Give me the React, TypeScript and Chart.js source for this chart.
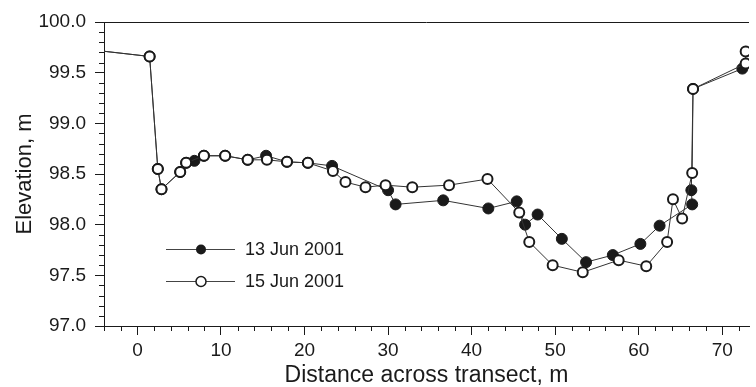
import React, { useEffect, useRef } from "react";
import { Chart, registerables } from "chart.js";

Chart.register(...registerables);

// 13 Jun 2001 (filled markers)
const juneThirteenX = [-6, 1.46, 2.44, 2.88, 5.12, 5.83, 6.82, 7.96, 10.5, 13.2, 15.4, 17.9, 20.4, 23.3, 30.0, 30.9, 36.6, 42.0, 45.4, 46.4, 47.9, 50.8, 53.7, 56.9, 60.2, 62.5, 66.4, 66.3, 66.5, 72.4];
const juneThirteenY = [99.73, 99.66, 98.55, 98.35, 98.52, 98.61, 98.63, 98.68, 98.68, 98.64, 98.68, 98.62, 98.61, 98.58, 98.34, 98.20, 98.24, 98.16, 98.23, 98.00, 98.10, 97.86, 97.63, 97.70, 97.81, 97.99, 98.20, 98.34, 99.34, 99.54];

// 15 Jun 2001 (open markers)
const juneFifteenX = [-6, 1.46, 2.44, 2.88, 5.12, 5.83, 7.96, 10.5, 13.2, 15.5, 17.9, 20.4, 23.4, 24.9, 27.3, 29.7, 32.9, 37.3, 41.9, 45.7, 46.9, 49.7, 53.3, 57.6, 60.9, 63.4, 64.1, 65.2, 66.4, 66.5, 72.8, 72.8];
const juneFifteenY = [99.73, 99.66, 98.55, 98.35, 98.52, 98.61, 98.68, 98.68, 98.64, 98.64, 98.62, 98.61, 98.53, 98.42, 98.37, 98.39, 98.37, 98.39, 98.45, 98.12, 97.83, 97.60, 97.53, 97.65, 97.59, 97.83, 98.25, 98.06, 98.51, 99.34, 99.59, 99.71];

const seriesLabels = ["13 Jun 2001", "15 Jun 2001"];
const xMajorTicks = [0, 10, 20, 30, 40, 50, 60, 70];
const yMajorTicks = [97.0, 97.5, 98.0, 98.5, 99.0, 99.5, 100.0];
const xMinorStep = 2;
const yMinorStep = 0.1;
const xRange = [-4, 73.2];
const yRange = [97, 100];

const FONT = "'Liberation Sans', Arial, Helvetica, sans-serif";
const INK = "#1a1a1a";

const toPoints = (xs: number[], ys: number[]) => xs.map((x, i) => ({ x, y: ys[i] }));

const decorPlugin = {
  id: "decor",
  afterDraw(chart: any) {
    const { ctx, chartArea, scales } = chart;
    const xs = scales.x;
    const ys = scales.y;
    ctx.save();
    ctx.strokeStyle = INK;
    ctx.lineWidth = 1;
    // top frame line
    ctx.beginPath();
    ctx.moveTo(chartArea.left, Math.round(chartArea.top) + 0.5);
    ctx.lineTo(chartArea.right, Math.round(chartArea.top) + 0.5);
    ctx.stroke();
    // minor ticks x
    for (let v = xRange[0]; v <= xRange[1] + 1e-9; v += xMinorStep) {
      const r = Math.round(v * 1000) / 1000;
      if (Math.abs(r % 10) < 1e-6) continue;
      const px = Math.round(xs.getPixelForValue(r)) + 0.5;
      ctx.beginPath();
      ctx.moveTo(px, chartArea.bottom);
      ctx.lineTo(px, chartArea.bottom + 5);
      ctx.stroke();
    }
    // minor ticks y
    for (let i = 0; i <= Math.round((yRange[1] - yRange[0]) / yMinorStep); i++) {
      if (i % 5 === 0) continue;
      const v = yRange[0] + i * yMinorStep;
      const py = Math.round(ys.getPixelForValue(v)) + 0.5;
      ctx.beginPath();
      ctx.moveTo(chartArea.left - 5, py);
      ctx.lineTo(chartArea.left, py);
      ctx.stroke();
    }
    // legend
    const rows = [
      { label: seriesLabels[0], filled: true, y: chartArea.top + 227 },
      { label: seriesLabels[1], filled: false, y: chartArea.top + 259 },
    ];
    ctx.font = `18px ${FONT}`;
    ctx.textBaseline = "middle";
    ctx.textAlign = "left";
    for (const row of rows) {
      ctx.strokeStyle = "#444";
      ctx.lineWidth = 1;
      ctx.beginPath();
      ctx.moveTo(chartArea.left + 62, row.y + 0.5);
      ctx.lineTo(chartArea.left + 131, row.y + 0.5);
      ctx.stroke();
      ctx.beginPath();
      ctx.arc(chartArea.left + 97, row.y + 0.5, 5, 0, Math.PI * 2);
      if (row.filled) {
        ctx.fillStyle = INK;
        ctx.fill();
      } else {
        ctx.fillStyle = "#fff";
        ctx.fill();
        ctx.strokeStyle = INK;
        ctx.lineWidth = 1.5;
        ctx.stroke();
      }
      ctx.fillStyle = INK;
      ctx.fillText(row.label, chartArea.left + 141, row.y + 1);
    }
    ctx.restore();
  },
};

export default function App() {
  const ref = useRef<HTMLCanvasElement | null>(null);
  useEffect(() => {
    if (!ref.current) return;
    const chart = new Chart(ref.current, {
      type: "scatter",
      data: {
        datasets: [
          {
            label: seriesLabels[1],
            data: toPoints(juneFifteenX, juneFifteenY),
            showLine: true,
            borderColor: "#333",
            borderWidth: 1,
            pointRadius: 5,
            pointBorderWidth: 2,
            pointBackgroundColor: "#fff",
            pointBorderColor: INK,
            order: 0,
          },
          {
            label: seriesLabels[0],
            data: toPoints(juneThirteenX, juneThirteenY),
            showLine: true,
            borderColor: "#333",
            borderWidth: 1,
            pointRadius: 5.5,
            pointBorderWidth: 1,
            pointBackgroundColor: INK,
            pointBorderColor: INK,
            order: 1,
          },
        ],
      },
      options: {
        responsive: false,
        animation: false,
        layout: { padding: { top: 22, left: 0, right: 0, bottom: 0 } },
        plugins: { legend: { display: false }, tooltip: { enabled: false } },
        scales: {
          x: {
            type: "linear",
            min: xRange[0],
            max: xRange[1],
            afterBuildTicks: (s: any) => {
              s.ticks = xMajorTicks.map((v) => ({ value: v }));
            },
            afterFit: (s: any) => {
              s.height = 61;
            },
            grid: { display: true, drawOnChartArea: false, drawTicks: true, tickLength: 9, color: INK, lineWidth: 1 },
            border: { display: true, color: INK, width: 1 },
            ticks: {
              color: INK,
              padding: 4,
              maxRotation: 0,
              autoSkip: false,
              font: { family: FONT, size: 19 },
              callback: (v: any) => String(v),
            },
            title: {
              display: true,
              text: "Distance across transect, m",
              color: INK,
              font: { family: FONT, size: 23, lineHeight: 1 },
              padding: { top: 1, bottom: 0 },
            },
          },
          y: {
            type: "linear",
            min: yRange[0],
            max: yRange[1],
            afterBuildTicks: (s: any) => {
              s.ticks = yMajorTicks.map((v) => ({ value: v }));
            },
            afterFit: (s: any) => {
              s.width = 104;
            },
            grid: { display: true, drawOnChartArea: false, drawTicks: true, tickLength: 9, color: INK, lineWidth: 1 },
            border: { display: true, color: INK, width: 1 },
            ticks: {
              color: INK,
              padding: 9,
              autoSkip: false,
              font: { family: FONT, size: 19 },
              callback: (v: any) => Number(v).toFixed(1),
            },
            title: {
              display: true,
              text: "Elevation, m",
              color: INK,
              font: { family: FONT, size: 22, lineHeight: 1 },
              padding: { top: 14, bottom: 0 },
            },
          },
        },
      },
      plugins: [decorPlugin],
    });
    return () => chart.destroy();
  }, []);
  return (
    <div style={{ position: "absolute", left: 0, top: 0, width: 756, height: 387, background: "#fff" }}>
      <canvas ref={ref} width={756} height={387} />
    </div>
  );
}
